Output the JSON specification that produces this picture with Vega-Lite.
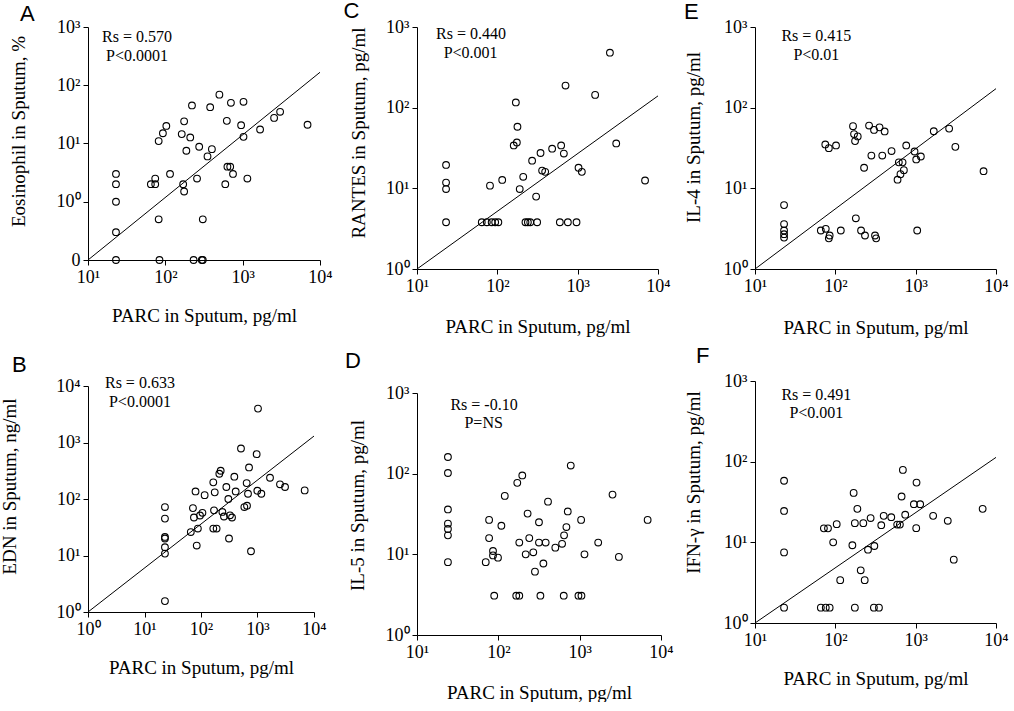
{
  "$schema": "https://vega.github.io/schema/vega-lite/v6.json",
  "background": "white",
  "padding": {"left": 0, "top": 0, "right": 0, "bottom": 0},
  "datasets": {
    "A": [
      {"parc":23,"value":3},{"parc":23,"value":2},{"parc":23,"value":1},{"parc":23,"value":0.3},{"parc":23,"value":0.1},
      {"parc":65,"value":2},{"parc":74,"value":2.5},{"parc":74,"value":2},{"parc":82,"value":11},{"parc":82,"value":0.5},
      {"parc":84,"value":0.1},{"parc":93,"value":15},{"parc":103,"value":20},{"parc":115,"value":3},{"parc":163,"value":14.5},
      {"parc":175,"value":24},{"parc":170,"value":2},{"parc":175,"value":1.5},{"parc":187,"value":7.5},{"parc":210,"value":12.7},
      {"parc":221,"value":45},{"parc":232,"value":0.1},{"parc":257,"value":2.5},{"parc":274,"value":8.8},{"parc":296,"value":0.1},
      {"parc":305,"value":0.1},{"parc":305,"value":0.5},{"parc":351,"value":6},{"parc":400,"value":8},{"parc":380,"value":42},
      {"parc":500,"value":69},{"parc":596,"value":2},{"parc":624,"value":24.5},{"parc":635,"value":4},{"parc":690,"value":4},
      {"parc":705,"value":50},{"parc":750,"value":3},{"parc":955,"value":20.6},{"parc":1025,"value":52},{"parc":1025,"value":13},
      {"parc":1150,"value":2.5},{"parc":1680,"value":17.4},{"parc":2550,"value":27.5},{"parc":3050,"value":35},{"parc":6900,"value":21}
    ],
    "A_fit": [{"parc":10,"value":0.1},{"parc":10000,"value":167}],
    "B": [
      {"parc":23,"value":72},{"parc":23,"value":45},{"parc":23,"value":21.3},{"parc":23,"value":20},{"parc":23,"value":14},
      {"parc":23,"value":10.8},{"parc":23,"value":1.56},{"parc":66,"value":26},{"parc":72,"value":69},{"parc":75,"value":47},
      {"parc":80,"value":136},{"parc":84,"value":15},{"parc":88,"value":30},{"parc":96,"value":51},{"parc":106,"value":57},
      {"parc":116,"value":117},{"parc":165,"value":197},{"parc":175,"value":131},{"parc":170,"value":63},{"parc":165,"value":30},
      {"parc":189,"value":30},{"parc":211,"value":280},{"parc":223,"value":316},{"parc":239,"value":59},{"parc":255,"value":49},
      {"parc":281,"value":163},{"parc":305,"value":100},{"parc":313,"value":20},{"parc":326,"value":51.5},{"parc":354,"value":47},
      {"parc":389,"value":248},{"parc":411,"value":136},{"parc":510,"value":783},{"parc":585,"value":72},{"parc":652,"value":76},
      {"parc":643,"value":191},{"parc":679,"value":124},{"parc":708,"value":362},{"parc":767,"value":11.9},{"parc":966,"value":622},
      {"parc":1020,"value":3980},{"parc":993,"value":140},{"parc":1170,"value":124},{"parc":1665,"value":238},{"parc":2500,"value":182},
      {"parc":3070,"value":163},{"parc":6840,"value":142}
    ],
    "B_fit": [{"parc":1,"value":1},{"parc":10000,"value":1300}],
    "C": [
      {"parc":23,"value":19.5},{"parc":23,"value":11.8},{"parc":23,"value":9.8},{"parc":23,"value":3.8},{"parc":64,"value":3.8},
      {"parc":74,"value":3.8},{"parc":81,"value":10.8},{"parc":85,"value":3.8},{"parc":94,"value":3.8},{"parc":103,"value":3.8},
      {"parc":115,"value":12.7},{"parc":170,"value":116},{"parc":160,"value":34},{"parc":175,"value":37},{"parc":178,"value":58},
      {"parc":190,"value":9.8},{"parc":210,"value":13.9},{"parc":224,"value":3.8},{"parc":240,"value":3.8},{"parc":257,"value":3.8},
      {"parc":271,"value":22},{"parc":304,"value":7.9},{"parc":313,"value":3.8},{"parc":345,"value":27.4},{"parc":361,"value":16.6},
      {"parc":394,"value":16},{"parc":481,"value":31},{"parc":600,"value":3.8},{"parc":623,"value":34},{"parc":673,"value":27},
      {"parc":706,"value":188},{"parc":755,"value":3.8},{"parc":968,"value":3.8},{"parc":1025,"value":18},{"parc":1127,"value":16},
      {"parc":1650,"value":144},{"parc":2520,"value":480},{"parc":3020,"value":36},{"parc":6900,"value":12.5}
    ],
    "C_fit": [{"parc":10,"value":1},{"parc":10000,"value":140}],
    "D": [
      {"parc":24,"value":161},{"parc":24,"value":102},{"parc":24,"value":36},{"parc":24,"value":24},{"parc":24,"value":20.6},
      {"parc":24,"value":17.2},{"parc":24,"value":8},{"parc":70,"value":8},{"parc":77,"value":26.7},{"parc":77,"value":15.9},
      {"parc":86,"value":11},{"parc":86,"value":9.7},{"parc":99,"value":9.1},{"parc":89,"value":3.07},{"parc":109,"value":22.6},
      {"parc":120,"value":53},{"parc":171,"value":77},{"parc":197,"value":95},{"parc":166,"value":3.07},{"parc":181,"value":3.07},
      {"parc":181,"value":14},{"parc":217,"value":10},{"parc":229,"value":32},{"parc":240,"value":15.9},{"parc":269,"value":10.6},
      {"parc":282,"value":6.1},{"parc":316,"value":25},{"parc":316,"value":14},{"parc":329,"value":3.07},{"parc":358,"value":7.7},
      {"parc":382,"value":14},{"parc":408,"value":45},{"parc":502,"value":12.1},{"parc":608,"value":13.5},{"parc":637,"value":3.07},
      {"parc":643,"value":17.2},{"parc":687,"value":21.8},{"parc":714,"value":34},{"parc":777,"value":126},{"parc":966,"value":3.07},
      {"parc":1052,"value":3.07},{"parc":1042,"value":26.7},{"parc":1146,"value":10},{"parc":1690,"value":14},{"parc":2535,"value":55},
      {"parc":3035,"value":9.3},{"parc":6850,"value":26.7}
    ],
    "E": [
      {"parc":23,"value":6.2},{"parc":23,"value":3.6},{"parc":23,"value":3.0},{"parc":23,"value":2.7},{"parc":23,"value":2.45},
      {"parc":66,"value":3},{"parc":75,"value":35},{"parc":76,"value":3.15},{"parc":83,"value":31.5},{"parc":85,"value":2.6},
      {"parc":83,"value":2.4},{"parc":102,"value":34},{"parc":117,"value":3},{"parc":166,"value":59},{"parc":171,"value":47},
      {"parc":176,"value":38.5},{"parc":190,"value":44},{"parc":180,"value":4.25},{"parc":209,"value":3},{"parc":228,"value":18},
      {"parc":234,"value":2.6},{"parc":263,"value":60},{"parc":281,"value":25.5},{"parc":303,"value":53},{"parc":312,"value":2.6},
      {"parc":322,"value":2.4},{"parc":355,"value":57},{"parc":384,"value":25.5},{"parc":411,"value":50.7},{"parc":501,"value":29},
      {"parc":595,"value":12.8},{"parc":617,"value":21},{"parc":647,"value":15},{"parc":687,"value":21},{"parc":713,"value":16.8},
      {"parc":763,"value":34},{"parc":968,"value":28.6},{"parc":1016,"value":22.8},{"parc":1045,"value":3},{"parc":1160,"value":24.8},
      {"parc":1680,"value":51},{"parc":2610,"value":55},{"parc":3120,"value":32.7},{"parc":7000,"value":16.3}
    ],
    "E_fit": [{"parc":10,"value":1},{"parc":10000,"value":172}],
    "F": [
      {"parc":23,"value":58},{"parc":23,"value":24.5},{"parc":23,"value":7.5},{"parc":23,"value":1.55},{"parc":66,"value":1.55},
      {"parc":72,"value":14.9},{"parc":81,"value":14.9},{"parc":76,"value":1.55},{"parc":85,"value":1.55},{"parc":94,"value":10},
      {"parc":104,"value":16.8},{"parc":115,"value":3.4},{"parc":163,"value":9.2},{"parc":169,"value":41},{"parc":175,"value":17.3},
      {"parc":175,"value":1.55},{"parc":188,"value":26},{"parc":207,"value":4.5},{"parc":223,"value":17.3},{"parc":232,"value":3.4},
      {"parc":255,"value":8.1},{"parc":275,"value":20},{"parc":306,"value":9},{"parc":302,"value":1.55},{"parc":349,"value":1.55},
      {"parc":373,"value":16.3},{"parc":400,"value":21.3},{"parc":497,"value":20.5},{"parc":589,"value":16.6},{"parc":636,"value":16.6},
      {"parc":668,"value":37},{"parc":693,"value":79},{"parc":741,"value":22},{"parc":950,"value":29.7},{"parc":1025,"value":55},
      {"parc":1016,"value":15},{"parc":1138,"value":29.7},{"parc":1650,"value":21.3},{"parc":2510,"value":18.5},{"parc":2980,"value":6.1},
      {"parc":6820,"value":26}
    ],
    "F_fit": [{"parc":10,"value":1},{"parc":10000,"value":113}]
  },
  "spacing": 10,
  "hconcat": [
    {
      "vconcat": [
        {"hconcat": [
        {
          "width": 232, "height": 233,
          "title": {"text": "A", "dx": -68, "offset": -8},
          "layer": [
            {
              "encoding": {
                "x": {"field": "parc", "type": "quantitative", "scale": {"type": "log", "domain": [10, 10000], "nice": false},
                      "axis": {"values": [10, 100, 1000, 10000], "title": "PARC in Sputum, pg/ml", "titleY": 61}},
                "y": {"field": "value", "type": "quantitative", "scale": {"type": "log", "domain": [0.1, 1000], "nice": false},
                      "axis": {"values": [0.1, 1, 10, 100, 1000], "title": "Eosinophil in Sputum, %", "titleX": -69.5, "titleY": 104}}
              },
              "layer": [
                {"data": {"name": "A"}, "mark": {"type": "point", "shape": "circle", "filled": false, "size": 45, "color": "black", "strokeWidth": 1.1, "opacity": 1}},
                {"data": {"name": "A_fit"}, "mark": {"type": "line", "color": "black", "strokeWidth": 1}}
              ]
            },
            {"data": {"values": [{}]}, "mark": {"type": "text", "fontSize": 16, "font": "Liberation Serif", "color": "black", "align": "center", "baseline": "middle"},
             "encoding": {"x": {"datum": 43}, "y": {"datum": 681}, "text": {"value": "Rs = 0.570"}}},
            {"data": {"values": [{}]}, "mark": {"type": "text", "fontSize": 16, "font": "Liberation Serif", "color": "black", "align": "center", "baseline": "middle"},
             "encoding": {"x": {"datum": 43}, "y": {"datum": 320}, "text": {"value": "P<0.0001"}}}
          ]
        }]},
        {"hconcat": [
        {
          "width": 226, "height": 226,
          "title": {"text": "B", "dx": -76, "offset": -2},
          "layer": [
            {
              "encoding": {
                "x": {"field": "parc", "type": "quantitative", "scale": {"type": "log", "domain": [1, 10000], "nice": false},
                      "axis": {"values": [1, 10, 100, 1000, 10000], "title": "PARC in Sputum, pg/ml", "titleY": 61}},
                "y": {"field": "value", "type": "quantitative", "scale": {"type": "log", "domain": [1, 10000], "nice": false},
                      "axis": {"values": [1, 10, 100, 1000, 10000], "title": "EDN in Sputum, ng/ml", "titleX": -78.5, "titleY": 100}}
              },
              "layer": [
                {"data": {"name": "B"}, "mark": {"type": "point", "shape": "circle", "filled": false, "size": 45, "color": "black", "strokeWidth": 1.1, "opacity": 1}},
                {"data": {"name": "B_fit"}, "mark": {"type": "line", "color": "black", "strokeWidth": 1}}
              ]
            },
            {"data": {"values": [{}]}, "mark": {"type": "text", "fontSize": 16, "font": "Liberation Serif", "color": "black", "align": "center", "baseline": "middle"},
             "encoding": {"x": {"datum": 8.3}, "y": {"datum": 11300}, "text": {"value": "Rs = 0.633"}}},
            {"data": {"values": [{}]}, "mark": {"type": "text", "fontSize": 16, "font": "Liberation Serif", "color": "black", "align": "center", "baseline": "middle"},
             "encoding": {"x": {"datum": 8.3}, "y": {"datum": 5210}, "text": {"value": "P<0.0001"}}}
          ]
        }]}
      ],
      "spacing": 29
    },
    {
      "vconcat": [
        {
          "width": 241, "height": 242,
          "title": {"text": "C", "dx": -73.5, "offset": -5},
          "layer": [
            {
              "encoding": {
                "x": {"field": "parc", "type": "quantitative", "scale": {"type": "log", "domain": [10, 10000], "nice": false},
                      "axis": {"values": [10, 100, 1000, 10000], "title": "PARC in Sputum, pg/ml", "titleY": 63}},
                "y": {"field": "value", "type": "quantitative", "scale": {"type": "log", "domain": [1, 1000], "nice": false},
                      "axis": {"values": [1, 10, 100, 1000], "title": "RANTES in Sputum, pg/ml", "titleX": -59, "titleY": 105.5}}
              },
              "layer": [
                {"data": {"name": "C"}, "mark": {"type": "point", "shape": "circle", "filled": false, "size": 45, "color": "black", "strokeWidth": 1.1, "opacity": 1}},
                {"data": {"name": "C_fit"}, "mark": {"type": "line", "color": "black", "strokeWidth": 1}}
              ]
            },
            {"data": {"values": [{}]}, "mark": {"type": "text", "fontSize": 16, "font": "Liberation Serif", "color": "black", "align": "center", "baseline": "middle"},
             "encoding": {"x": {"datum": 47}, "y": {"datum": 819}, "text": {"value": "Rs = 0.440"}}},
            {"data": {"values": [{}]}, "mark": {"type": "text", "fontSize": 16, "font": "Liberation Serif", "color": "black", "align": "center", "baseline": "middle"},
             "encoding": {"x": {"datum": 46.5}, "y": {"datum": 476}, "text": {"value": "P<0.001"}}}
          ]
        },
        {
          "width": 244, "height": 242,
          "title": {"text": "D", "dx": -72, "offset": 11},
          "layer": [
            {
              "encoding": {
                "x": {"field": "parc", "type": "quantitative", "scale": {"type": "log", "domain": [10, 10000], "nice": false},
                      "axis": {"values": [10, 100, 1000, 10000], "title": "PARC in Sputum, pg/ml", "titleY": 63}},
                "y": {"field": "value", "type": "quantitative", "scale": {"type": "log", "domain": [1, 1000], "nice": false},
                      "axis": {"values": [1, 10, 100, 1000], "title": "IL-5 in Sputum, pg/ml", "titleX": -59.5, "titleY": 112}}
              },
              "layer": [
                {"data": {"name": "D"}, "mark": {"type": "point", "shape": "circle", "filled": false, "size": 45, "color": "black", "strokeWidth": 1.1, "opacity": 1}}
              ]
            },
            {"data": {"values": [{}]}, "mark": {"type": "text", "fontSize": 16, "font": "Liberation Serif", "color": "black", "align": "center", "baseline": "middle"},
             "encoding": {"x": {"datum": 66.7}, "y": {"datum": 710}, "text": {"value": "Rs = -0.10"}}},
            {"data": {"values": [{}]}, "mark": {"type": "text", "fontSize": 16, "font": "Liberation Serif", "color": "black", "align": "center", "baseline": "middle"},
             "encoding": {"x": {"datum": 66}, "y": {"datum": 425}, "text": {"value": "P=NS"}}}
          ]
        }
      ],
      "spacing": 124,
      "bounds": "flush"
    },
    {
      "vconcat": [
        {
          "width": 241, "height": 242,
          "title": {"text": "E", "dx": -71, "offset": -6},
          "layer": [
            {
              "encoding": {
                "x": {"field": "parc", "type": "quantitative", "scale": {"type": "log", "domain": [10, 10000], "nice": false},
                      "axis": {"values": [10, 100, 1000, 10000], "title": "PARC in Sputum, pg/ml", "titleY": 64}},
                "y": {"field": "value", "type": "quantitative", "scale": {"type": "log", "domain": [1, 1000], "nice": false},
                      "axis": {"values": [1, 10, 100, 1000], "title": "IL-4 in Sputum, pg/ml", "titleX": -61.5, "titleY": 110}}
              },
              "layer": [
                {"data": {"name": "E"}, "mark": {"type": "point", "shape": "circle", "filled": false, "size": 45, "color": "black", "strokeWidth": 1.1, "opacity": 1}},
                {"data": {"name": "E_fit"}, "mark": {"type": "line", "color": "black", "strokeWidth": 1}}
              ]
            },
            {"data": {"values": [{}]}, "mark": {"type": "text", "fontSize": 16, "font": "Liberation Serif", "color": "black", "align": "center", "baseline": "middle"},
             "encoding": {"x": {"datum": 58}, "y": {"datum": 780}, "text": {"value": "Rs = 0.415"}}},
            {"data": {"values": [{}]}, "mark": {"type": "text", "fontSize": 16, "font": "Liberation Serif", "color": "black", "align": "center", "baseline": "middle"},
             "encoding": {"x": {"datum": 58}, "y": {"datum": 452}, "text": {"value": "P<0.01"}}}
          ]
        },
        {
          "width": 241, "height": 242,
          "title": {"text": "F", "dx": -59, "offset": 4},
          "layer": [
            {
              "encoding": {
                "x": {"field": "parc", "type": "quantitative", "scale": {"type": "log", "domain": [10, 10000], "nice": false},
                      "axis": {"values": [10, 100, 1000, 10000], "title": "PARC in Sputum, pg/ml", "titleY": 61}},
                "y": {"field": "value", "type": "quantitative", "scale": {"type": "log", "domain": [1, 1000], "nice": false},
                      "axis": {"values": [1, 10, 100, 1000], "title": "IFN-γ in Sputum, pg/ml", "titleX": -61.5, "titleY": 101}}
              },
              "layer": [
                {"data": {"name": "F"}, "mark": {"type": "point", "shape": "circle", "filled": false, "size": 45, "color": "black", "strokeWidth": 1.1, "opacity": 1}},
                {"data": {"name": "F_fit"}, "mark": {"type": "line", "color": "black", "strokeWidth": 1}}
              ]
            },
            {"data": {"values": [{}]}, "mark": {"type": "text", "fontSize": 16, "font": "Liberation Serif", "color": "black", "align": "center", "baseline": "middle"},
             "encoding": {"x": {"datum": 58}, "y": {"datum": 671}, "text": {"value": "Rs = 0.491"}}},
            {"data": {"values": [{}]}, "mark": {"type": "text", "fontSize": 16, "font": "Liberation Serif", "color": "black", "align": "center", "baseline": "middle"},
             "encoding": {"x": {"datum": 58}, "y": {"datum": 402}, "text": {"value": "P<0.001"}}}
          ]
        }
      ],
      "spacing": 112,
      "bounds": "flush"
    }
  ],
  "config": {
    "view": {"stroke": null},
    "title": {"font": "Liberation Sans", "fontSize": 22, "fontWeight": "normal", "color": "black", "anchor": "start", "frame": "group", "baseline": "alphabetic"},
    "axis": {
      "grid": false,
      "domainColor": "black", "domainWidth": 1,
      "tickColor": "black", "tickWidth": 1, "tickSize": 5,
      "labelFont": "Liberation Serif", "labelFontSize": 18, "labelColor": "black", "labelPadding": 3,
      "labelFlush": false, "labelOverlap": false,
      "labelExpr": "datum.value < 0.5 ? '0' : '10' + ['⁰','¹','²','³','⁴'][round(log(datum.value)/LN10)]",
      "titleFont": "Liberation Serif", "titleFontSize": 19, "titleFontWeight": "normal", "titleColor": "black"
    },
    "axisX": {"titleBaseline": "alphabetic"},
    "axisY": {"titleBaseline": "middle"}
  }
}
